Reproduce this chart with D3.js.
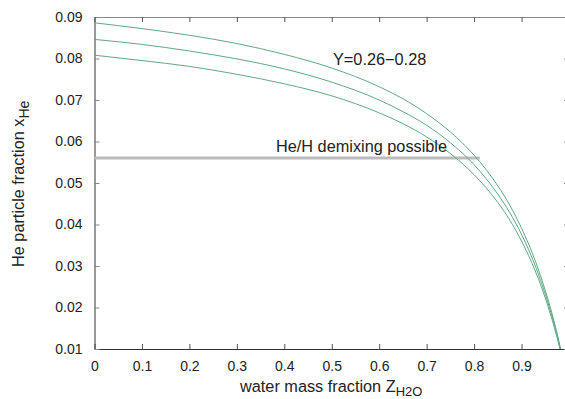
<!DOCTYPE html>
<html>
<head>
<meta charset="utf-8">
<script src="https://cdn.jsdelivr.net/npm/d3@7"></script>
<style>
  body { margin: 0; background: #fff; }
  svg { font-family: Arial, "Liberation Sans", sans-serif; }
  .axis text { font-size: 14px; fill: #222; }
</style>
</head>
<body>
<div id="chart"></div>
<script>
// Water mass fraction Z_H2O (shared sample points) and He particle fraction x_He per curve
const zH2O = [0, 0.1, 0.2, 0.3, 0.4, 0.5, 0.6, 0.65, 0.7, 0.75, 0.8, 0.825, 0.85, 0.875, 0.9, 0.93, 0.95, 0.96, 0.97, 0.975];
const xHeY028 = [0.0886, 0.0872, 0.0856, 0.0836, 0.0810, 0.0777, 0.0732, 0.0703, 0.0667, 0.0623, 0.0567, 0.0533, 0.0493, 0.0447, 0.0391, 0.0309, 0.0241, 0.0203, 0.0160, 0.0137];
const xHeY027 = [0.0846, 0.0834, 0.0818, 0.0799, 0.0775, 0.0743, 0.0700, 0.0672, 0.0639, 0.0597, 0.0544, 0.0511, 0.0473, 0.0429, 0.0376, 0.0297, 0.0232, 0.0195, 0.0154, 0.0132];
const xHeY026 = [0.0808, 0.0795, 0.0781, 0.0762, 0.0739, 0.0710, 0.0669, 0.0643, 0.0611, 0.0571, 0.0520, 0.0489, 0.0453, 0.0411, 0.0360, 0.0285, 0.0223, 0.0187, 0.0148, 0.0127];
// where each curve runs into the bottom of the frame
const zEnd = [0.9824, 0.9817, 0.9809];

// demixing threshold line
const demixZ = [0, 0.812];
const demixXHe = 0.056;

const xTicks = [0, 0.1, 0.2, 0.3, 0.4, 0.5, 0.6, 0.7, 0.8, 0.9];
const yTicks = [0.01, 0.02, 0.03, 0.04, 0.05, 0.06, 0.07, 0.08, 0.09];

const width = 565;
const height = 399;
const margin = { top: 17, right: -4, bottom: 50, left: 94.5 };

const svg = d3.select("#chart")
  .append("svg")
  .attr("width", width)
  .attr("height", height);

const xScale = d3.scaleLinear()
  .domain([0, 1])
  .range([margin.left, width - margin.right]);

const yScale = d3.scaleLinear()
  .domain([0.01, 0.09])
  .range([height - margin.bottom, margin.top]);

// Axes (ticks point inwards)
const xAxis = d3.axisBottom(xScale)
  .tickValues(xTicks)
  .tickFormat(d => d === 0 ? "0" : d3.format(".1f")(d))
  .tickSizeInner(-5).tickSizeOuter(0).tickPadding(12);

const yAxis = d3.axisLeft(yScale)
  .tickValues(yTicks)
  .tickFormat(d3.format(".2f"))
  .tickSizeInner(-5).tickSizeOuter(0).tickPadding(12);

const gx = svg.append("g").attr("class", "axis")
  .attr("transform", "translate(0," + yScale(0.01) + ")")
  .call(xAxis);

const gy = svg.append("g").attr("class", "axis")
  .attr("transform", "translate(" + xScale(0) + ",0)")
  .call(yAxis);

const gTop = svg.append("g").attr("class", "axis")
  .attr("transform", "translate(0," + yScale(0.09) + ")")
  .call(d3.axisTop(xScale).tickValues(xTicks).tickFormat("").tickSizeInner(-5).tickSizeOuter(0));

const gRight = svg.append("g").attr("class", "axis")
  .attr("transform", "translate(" + xScale(1) + ",0)")
  .call(d3.axisRight(yScale).tickValues(yTicks).tickFormat("").tickSizeInner(-5).tickSizeOuter(0));

gx.select(".domain").attr("stroke", "#333");
gy.select(".domain").attr("stroke", "#333");
gTop.select(".domain").attr("stroke", "#888");
gRight.select(".domain").attr("stroke", "#888");
gx.selectAll(".tick line").attr("stroke", "#555");
gy.selectAll(".tick line").attr("stroke", "#888");
gTop.selectAll(".tick line").attr("stroke", "#555");
gRight.selectAll(".tick line").attr("stroke", "#888");

// Demixing line
svg.append("line")
  .attr("x1", xScale(demixZ[0]))
  .attr("x2", xScale(demixZ[1]))
  .attr("y1", yScale(demixXHe))
  .attr("y2", yScale(demixXHe))
  .attr("stroke", "#bbb")
  .attr("stroke-width", 3);

// Curves
const line = d3.line()
  .x(d => xScale(d[0]))
  .y(d => yScale(d[1]))
  .curve(d3.curveMonotoneX);

[xHeY028, xHeY027, xHeY026].forEach((xs, i) => {
  const pts = d3.zip(zH2O, xs);
  pts.push([zEnd[i], 0.01]);
  svg.append("path")
    .datum(pts)
    .attr("fill", "none")
    .attr("stroke", "#5fa883")
    .attr("stroke-width", 1)
    .attr("d", line);
});

// Annotations
svg.append("text")
  .attr("x", 333).attr("y", 65)
  .attr("font-size", 16.3).attr("fill", "#222")
  .text("Y=0.26\u22120.28");

svg.append("text")
  .attr("x", 276).attr("y", 152)
  .attr("font-size", 16.3).attr("fill", "#222")
  .text("He/H demixing possible");

// Axis titles
const xTitle = svg.append("text")
  .attr("x", 240).attr("y", 392)
  .attr("font-size", 16.3).attr("fill", "#222")
  .text("water mass fraction Z");
xTitle.append("tspan")
  .attr("dy", 4).attr("font-size", 13)
  .text("H2O");

const yTitle = svg.append("text")
  .attr("transform", "translate(23.5,267) rotate(-90)")
  .attr("font-size", 16.3).attr("fill", "#222")
  .text("He particle fraction x");
yTitle.append("tspan")
  .attr("dy", 5).attr("font-size", 14)
  .text("He");
</script>
</body>
</html>
